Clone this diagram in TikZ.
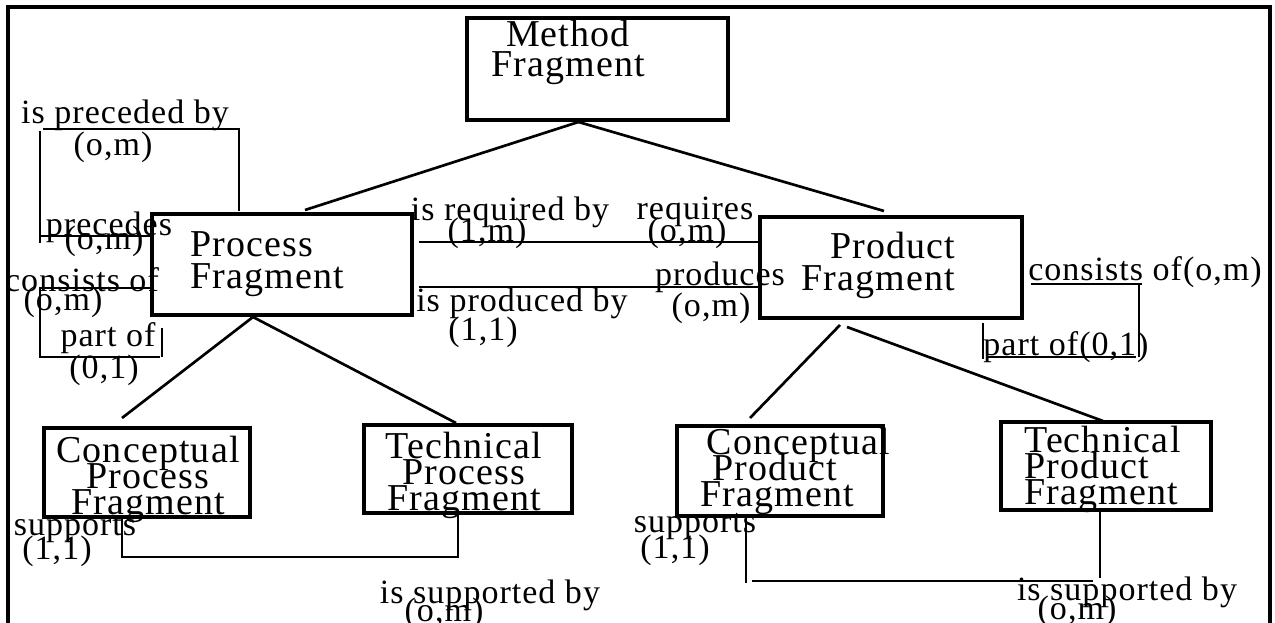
\documentclass[tikz,border=0pt]{standalone}
\usepackage{fontspec}
\setmainfont{Liberation Serif}[LetterSpace=3]
\usetikzlibrary{calc}
% let stacked caption lines sit closer than their natural height
\newcommand\tightlines{\setlength{\lineskiplimit}{-100pt}\setlength{\lineskip}{0pt}}
\begin{document}
\begin{tikzpicture}[x=0.75pt,y=-0.75pt,
  frag/.style 2 args={draw,line width=3pt,inner sep=0pt,
    minimum width=#1*0.75pt,minimum height=#2*0.75pt},
  bigtext/.style={font=\fontsize{28.5}{24}\selectfont\tightlines,inner sep=0pt},
  midtext/.style={font=\fontsize{28.5}{22.5}\selectfont\tightlines,inner sep=0pt},
  smalltext/.style={font=\fontsize{28.5}{19.5}\selectfont\tightlines,inner sep=0pt},
  rel/.style={font=\fontsize{25.5}{22}\selectfont,inner sep=0pt},
  link/.style={line width=2pt},
  rline/.style={line width=1.6pt}]
\useasboundingbox (0,0) rectangle (1275,623);
% outer frame, open at the bottom
\draw[line width=3.5pt] (8,623) -- (8,7) -- (1270,7) -- (1270,623);

% fragment boxes
\node[frag={261}{102}] (M)  at (597.5,69)  {};
\node[frag={260}{101}] (P)  at (282,264.5) {};
\node[frag={262}{101}] (D)  at (891,267.5) {};
\node[frag={206}{89}]  (CP) at (147,472.5) {};
\node[frag={208}{88}]  (TP) at (468,469)   {};
\node[frag={206}{90}]  (CD) at (780,471)   {};
\node[frag={210}{88}]  (TD) at (1106,466)  {};

% box captions
\node[midtext,align=center] (Mt) at (568,52) {Method\\Fragment};
\node[bigtext,align=left,anchor=west] (Pt) at (190,264) {Process\\Fragment};
\node[bigtext,align=center] (Dt) at (878,265) {\hspace*{22pt}Product\\Fragment};
\node[smalltext,align=center] (CPt) at (148,479) {Conceptual\\Process\\Fragment};
\node[smalltext,align=center] (TPt) at (464,475) {Technical\\Process\\Fragment};
\node[smalltext,align=left,anchor=west] (CDt) at (700,471) {\hspace*{5pt}Conceptual\\\hspace*{9pt}Product\\Fragment};
\node[smalltext,align=left,anchor=west] (TDt) at (1024,469) {Technical\\Product\\Fragment};

% hierarchy links
\draw[link] ($(M.south)+(-19,0)$) -- ($(P.north)+(23,-2)$);
\draw[link] ($(M.south)+(-19,0)$) -- ($(D.north)+(-7,-4)$);
\draw[link] ($(P.south)+(-29,0)$) -- ($(CP.north)+(-25,-8)$);
\draw[link] ($(P.south)+(-29,0)$) -- ($(TP.north)+(-12,0)$);
\draw[link] ($(D.south)+(-51,5)$) -- ($(CD.north)+(-30,-6)$);
\draw[link] ($(D.south)+(-44,7)$) -- ($(TD.north)+(-3,1)$);

% process <-> product relations
\draw[rline] ($(P.east)+(5,-22.5)$) -- ($(D.west)+(0,-25.5)$);
\draw[rline] ($(P.east)+(5,22.5)$) -- ($(D.west)+(0,19.5)$);

% precedes loop on the process fragment
\coordinate (pl1) at (40,236);
\coordinate (pl2) at (40,243);
\coordinate (pl3) at (40,131);
\coordinate (pl4) at (43,129);
\coordinate (pl5) at (239,129);
\draw[rline] ($(P.west)+(0,-28.5)$) -- (pl1);
\draw[rline] (pl2) -- (pl3);
\draw[rline] (pl4) -- (pl5) -- ($(P.north)+(-43,-1)$);

% composition loop on the process fragment
\coordinate (pc1) at (40,288);
\coordinate (pc2) at (40,357);
\coordinate (pc3) at (160,357);
\coordinate (pc4) at (162,328);
\coordinate (pc5) at (162,357);
\draw[rline] ($(P.west)+(0,23.5)$) -- (pc1) -- (pc2) -- (pc3);
\draw[rline] (pc4) -- (pc5);

% composition loop on the product fragment
\coordinate (dc1) at (1142,284);
\coordinate (dc2) at (1139,284);
\coordinate (dc3) at (1139,357);
\coordinate (dc4) at (988,357);
\coordinate (dc5) at (1136,357);
\coordinate (dc6) at (983,323);
\coordinate (dc7) at (983,359);
\draw[rline] ($(D.east)+(7,16.5)$) -- (dc1);
\draw[rline] (dc2) -- (dc3);
\draw[rline] (dc4) -- (dc5);
\draw[rline] (dc6) -- (dc7);

% support links
\coordinate (sp1) at (122,557);
\coordinate (sp2) at (458,557);
\draw[rline] ($(CP.south)+(-25,0)$) -- (sp1) -- (sp2) -- ($(TP.south)+(-10,0)$);
\coordinate (sd1) at (746,583);
\coordinate (sd2) at (752,581);
\coordinate (sd3) at (1093,581);
\coordinate (sd4) at (1100,578);
\draw[rline] ($(CD.south)+(-34,0)$) -- (sd1);
\draw[rline] (sd2) -- (sd3);
\draw[rline] (sd4) -- ($(TD.south)+(-6,0)$);

% relation labels
\node[rel] (l1)  at (125,115) {is preceded by};
\node[rel] (l2)  at (113,147) {(o,m)};
\node[rel] (l3)  at (109,227) {precedes};
\node[rel] (l4)  at (104,241) {(o,m)};
\node[rel] (l5)  at (82,280)  {consists of};
\node[rel] (l6)  at (63,302)  {(o,m)};
\node[rel] (l7)  at (108,338) {part of};
\node[rel] (l8)  at (104,370) {(0,1)};
\node[rel] (l9)  at (510,212) {is required by};
\node[rel] (l10) at (487,233) {(1,m)};
\node[rel] (l11) at (695,212) {requires};
\node[rel] (l12) at (687,233) {(o,m)};
\node[rel] (l13) at (720,277) {produces};
\node[rel] (l14) at (711,308) {(o,m)};
\node[rel] (l15) at (522,303) {is produced by};
\node[rel] (l16) at (483,332) {(1,1)};
\node[rel] (l17) at (1145,272) {consists of(o,m)};
\node[rel] (l18) at (1066,347) {part of(0,1)};
\node[rel] (l19) at (75,530)  {supports};
\node[rel] (l20) at (57,551)  {(1,1)};
\node[rel] (l21) at (490,595) {is supported by};
\node[rel] (l22) at (444,613) {(o,m)};
\node[rel] (l23) at (695,527) {supports};
\node[rel] (l24) at (675,550) {(1,1)};
\node[rel] (l25) at (1127,592) {is supported by};
\node[rel] (l26) at (1077,611) {(o,m)};
\end{tikzpicture}
\end{document}
